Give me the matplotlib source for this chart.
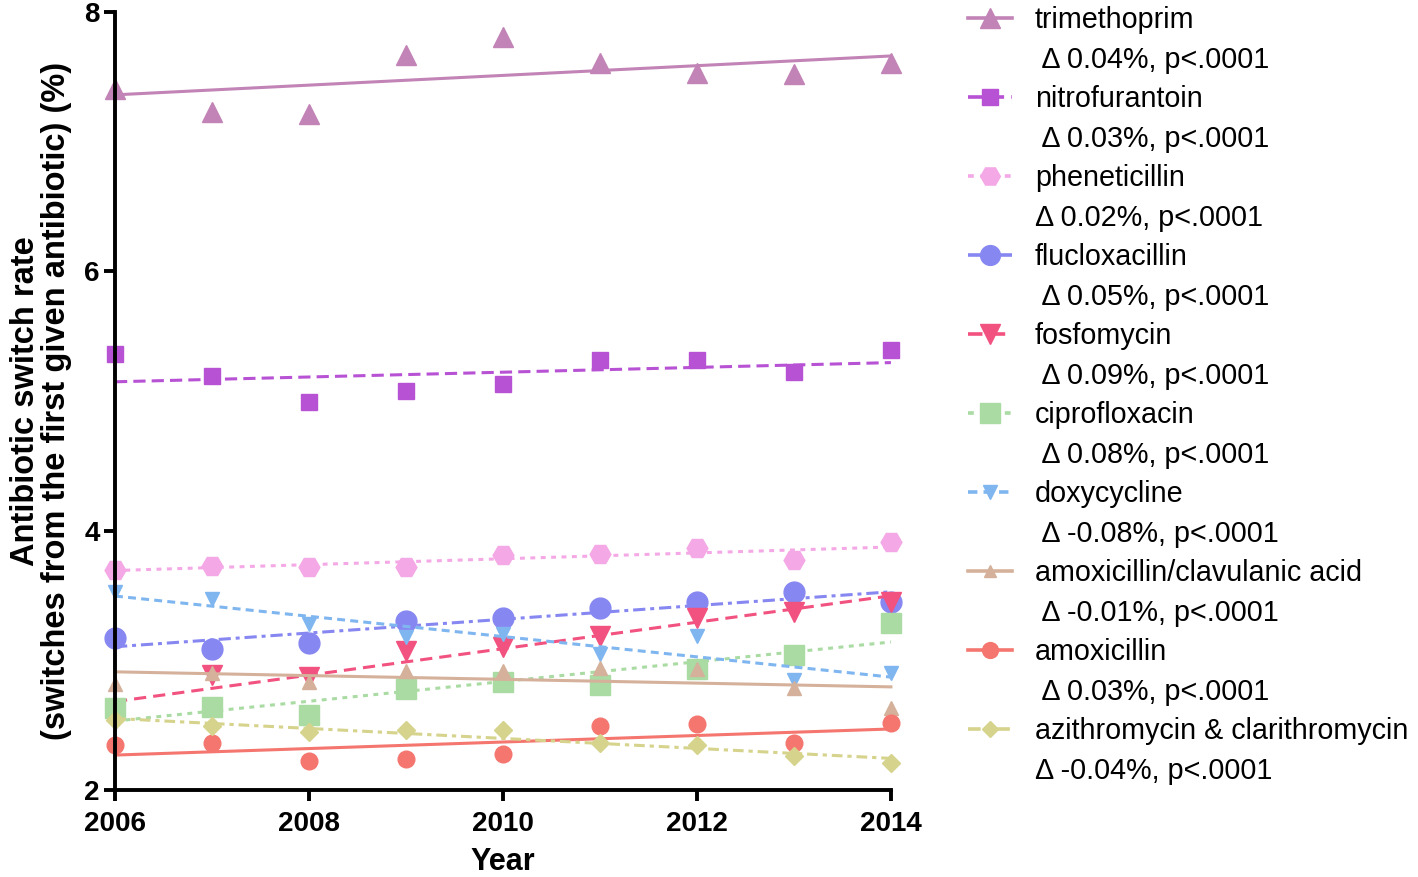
import numpy as np
import matplotlib
matplotlib.use('Agg')
from matplotlib import pyplot as plt
from matplotlib.lines import Line2D

plt.rcParams['font.family'] = ['Liberation Sans', 'DejaVu Sans']

years = [2006, 2007, 2008, 2009, 2010, 2011, 2012, 2013, 2014]

trimethoprim = [7.41, 7.23, 7.21, 7.67, 7.81, 7.61, 7.53, 7.52, 7.61]
nitrofurantoin = [5.36, 5.19, 4.99, 5.08, 5.13, 5.32, 5.32, 5.22, 5.39]
pheneticillin = [3.70, 3.73, 3.72, 3.72, 3.81, 3.82, 3.87, 3.77, 3.91]
flucloxacillin = [3.17, 3.09, 3.13, 3.30, 3.33, 3.40, 3.45, 3.53, 3.45]
fosfomycin = [2.54, 2.89, 2.87, 3.07, 3.10, 3.19, 3.33, 3.37, 3.45]
ciprofloxacin = [2.63, 2.64, 2.58, 2.78, 2.83, 2.81, 2.93, 3.04, 3.29]
doxycycline = [3.53, 3.47, 3.28, 3.18, 3.20, 3.05, 3.19, 2.85, 2.90]
amox_clav = [2.82, 2.90, 2.83, 2.92, 2.92, 2.94, 2.93, 2.79, 2.63]
amoxicillin = [2.35, 2.36, 2.22, 2.24, 2.28, 2.49, 2.51, 2.36, 2.52]
azithro_clari = [2.54, 2.49, 2.45, 2.46, 2.46, 2.36, 2.35, 2.26, 2.21]

names = ['trimethoprim', 'nitrofurantoin', 'pheneticillin', 'flucloxacillin', 'fosfomycin',
         'ciprofloxacin', 'doxycycline', 'amoxicillin/clavulanic acid', 'amoxicillin',
         'azithromycin & clarithromycin']
deltas = [' \u0394 0.04%, p<.0001', ' \u0394 0.03%, p<.0001', '\u0394 0.02%, p<.0001',
          ' \u0394 0.05%, p<.0001', ' \u0394 0.09%, p<.0001', ' \u0394 0.08%, p<.0001',
          ' \u0394 -0.08%, p<.0001', ' \u0394 -0.01%, p<.0001', ' \u0394 0.03%, p<.0001',
          '\u0394 -0.04%, p<.0001']
series = [trimethoprim, nitrofurantoin, pheneticillin, flucloxacillin, fosfomycin,
          ciprofloxacin, doxycycline, amox_clav, amoxicillin, azithro_clari]

# colour, marker, marker size, line style
styles = [
    ('#c283b6', '^', 15, '-'),
    ('#b852d4', 's', 11.5, (0, (4, 2))),
    ('#f4a8e6', 'H', 15, (0, (1.6, 1.8))),
    ('#8787f2', 'o', 15, (0, (4, 1.6, 1.3, 1.6))),
    ('#f2527f', 'v', 14.5, (0, (4, 2.3))),
    ('#a9dba3', 's', 15, (0, (1.6, 1.8))),
    ('#7fb6f0', 'v', 10, (0, (2.6, 1.7))),
    ('#d5b19b', '^', 9.5, '-'),
    ('#f4766f', 'o', 12, '-'),
    ('#d6d38c', 'D', 9, (0, (3.5, 1.6, 1.4, 1.6))),
]

fig = plt.figure(figsize=(14.18, 8.77), dpi=100)
ax = fig.add_axes([0.0811, 0.0992, 0.5472, 0.8871])

x = np.array(years, dtype=float)
handles, labels = [], []
blank = Line2D([], [], linestyle='none', marker='none')
for name, delta, vals, (col, mk, ms, ls) in zip(names, deltas, series, styles):
    y = np.array(vals)
    k, b = np.polyfit(x, y, 1)
    ax.plot(x, k * x + b, color=col, lw=2.2, linestyle=ls, clip_on=False)
    ax.plot(x, y, linestyle='none', marker=mk, markersize=ms, color=col, clip_on=False)
    handles.append(Line2D([], [], color=col, lw=2.6, linestyle=ls, marker=mk, markersize=ms * 0.95))
    labels.append(name)
    handles.append(blank)
    labels.append(delta)

ax.set_xlim(2006, 2014)
ax.set_ylim(2, 8)
ax.set_xticks([2006, 2008, 2010, 2012, 2014])
ax.set_yticks([2, 4, 6, 8])
for s in ['top', 'right']:
    ax.spines[s].set_visible(False)
for s in ['left', 'bottom']:
    ax.spines[s].set_linewidth(2.8)
ax.tick_params(width=2.8, length=8, labelsize=20)
ax.tick_params(axis='x', pad=7)
ax.tick_params(axis='y', pad=3)
for t in ax.get_xticklabels() + ax.get_yticklabels():
    t.set_fontweight('bold')

ax.set_xlabel('Year', fontsize=22, fontweight='bold', labelpad=7)
ax.set_ylabel('Antibiotic switch rate\n(switches from the first given antibiotic) (%)',
              fontsize=23.5, fontweight='bold', linespacing=1.0)
ax.yaxis.set_label_coords(-0.0554, 0.5)

fig.legend(handles, labels, loc='upper left', bbox_to_anchor=(0.6827, 0.993),
           frameon=False, fontsize=20.7, handlelength=1.53, handletextpad=0.8,
           labelspacing=0.40, borderaxespad=0, borderpad=0)

fig.savefig('out.png', dpi=100)
